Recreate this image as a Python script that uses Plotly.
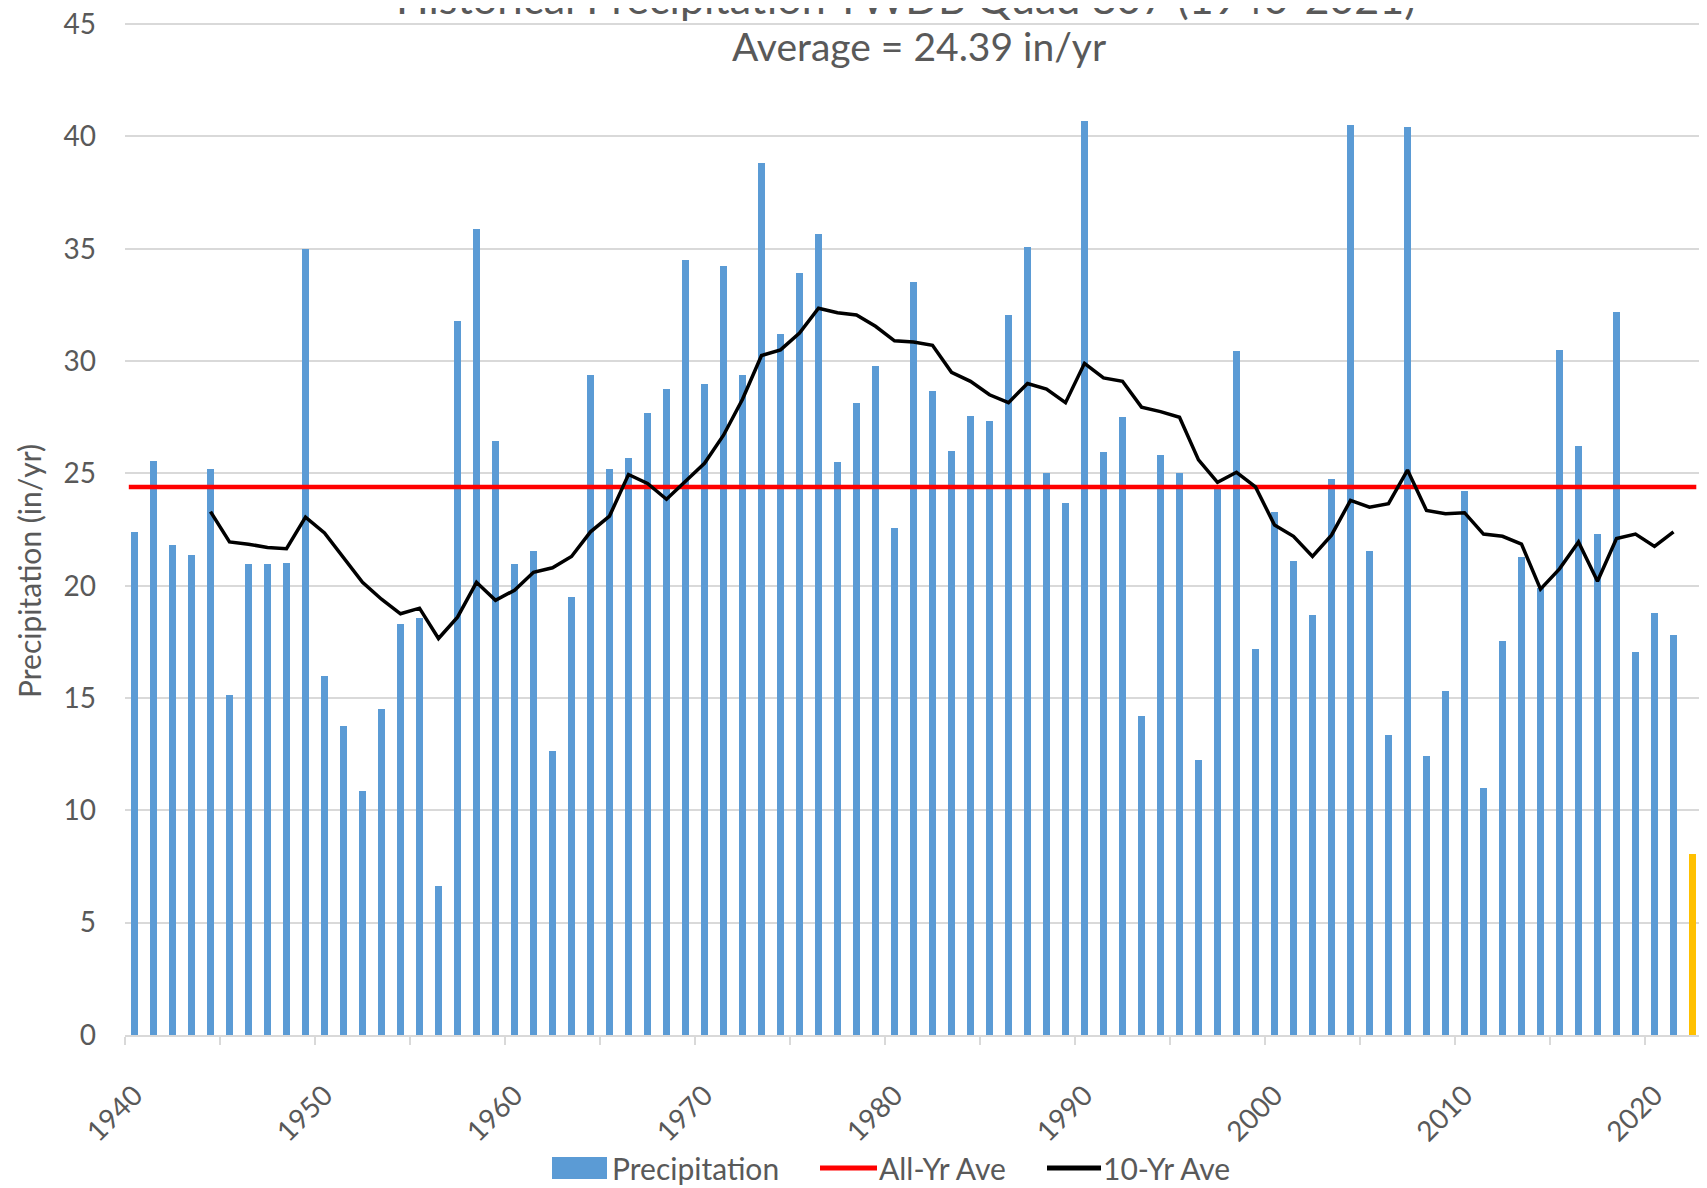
import plotly.graph_objects as go

# --- data ---
years = list(range(1940, 2023))
precip = [
    22.4, 25.55, 21.8, 21.35, 25.2, 15.15, 20.95, 20.95, 21.0, 35.0,      # 1940s
    16.0, 13.75, 10.85, 14.5, 18.3, 18.55, 6.65, 31.8, 35.9, 26.45,       # 1950s
    20.95, 21.55, 12.65, 19.5, 29.4, 25.2, 25.7, 27.7, 28.75, 34.5,       # 1960s
    29.0, 34.25, 29.4, 38.8, 31.2, 33.9, 35.65, 25.5, 28.15, 29.8,        # 1970s
    22.55, 33.5, 28.65, 26.0, 27.55, 27.35, 32.05, 35.1, 25.0, 23.7,      # 1980s
    40.7, 25.95, 27.5, 14.2, 25.8, 25.0, 12.25, 24.5, 30.45, 17.2,        # 1990s
    23.3, 21.1, 18.7, 24.75, 40.5, 21.55, 13.35, 40.4, 12.4, 15.3,        # 2000s
    24.2, 11.0, 17.55, 21.3, 19.9, 30.5, 26.2, 22.3, 32.2, 17.05,         # 2010s
    18.8, 17.8, 8.05,                                                     # 2020-2022
]
partial_year = 2022  # current (incomplete) year, drawn in yellow

ten_yr_years = list(range(1944, 2022))
ten_yr_ave = [
    23.3, 21.95, 21.85, 21.7, 21.65, 23.05,
    22.35, 21.25, 20.15, 19.4, 18.75, 19.0, 17.65, 18.6, 20.15, 19.35,
    19.8, 20.6, 20.8, 21.3, 22.4, 23.1, 24.95, 24.55, 23.85, 24.65,
    25.45, 26.7, 28.3, 30.25, 30.5, 31.25, 32.35, 32.15, 32.05, 31.55,
    30.9, 30.85, 30.7, 29.5, 29.1, 28.5, 28.15, 29.0, 28.75, 28.15,
    29.9, 29.25, 29.1, 27.95, 27.75, 27.5, 25.6, 24.6, 25.05, 24.4,
    22.7, 22.2, 21.3, 22.25, 23.8, 23.5, 23.65, 25.15, 23.35, 23.2,
    23.25, 22.3, 22.2, 21.85, 19.85, 20.75, 21.95, 20.2, 22.1, 22.3,
    21.75, 22.4,
]
all_yr_ave = 24.39

x_tick_years = list(range(1940, 2021, 10))
y_ticks = list(range(0, 46, 5))

title_text = "Historical Precipitation TWDB Quad 807 (1940-2021)"
subtitle_text = "Average = 24.39 in/yr"
y_title = "Precipitation (in/yr)"

# --- styling ---
# the page body has the browser's default 8px margin, so the figure starts at (8, 8)
OFF = 8
WIN_W, WIN_H = 1707, 1188
W, H = WIN_W - OFF, WIN_H - OFF
# plot area in window pixels
PL, PR, PT, PB = 125, 1702, 23, 1035
M_L, M_R, M_T, M_B = PL - OFF, W - (PR - OFF), PT - OFF, H - (PB - OFF)

BLUE = "#5B9BD5"
YELLOW = "#FFC000"
RED = "#FF0000"
GRID = "#D9D9D9"
TXT = "#595959"
FONT = "Lato, Carlito, Calibri, sans-serif"


def paper_x(px):
    """window pixel -> paper x"""
    return (px - PL) / (PR - PL)


def paper_y(py):
    """window pixel -> paper y"""
    return (PB - py) / (PB - PT)


bar_colors = [YELLOW if y == partial_year else BLUE for y in years]

fig = go.Figure()

# Barres annuelles
fig.add_trace(go.Bar(
    x=years, y=precip,
    marker=dict(color=bar_colors, line=dict(width=0)),
    width=0.4,
    name="Precipitation",
    showlegend=False,
))

# Moyenne toutes années
fig.add_trace(go.Scatter(
    x=[years[0] - 0.3, years[-1] + 0.2],
    y=[all_yr_ave, all_yr_ave],
    mode="lines",
    line=dict(color=RED, width=4.5),
    name="All-Yr Ave",
    showlegend=False,
))

# Moyenne glissante 10 ans
fig.add_trace(go.Scatter(
    x=ten_yr_years, y=ten_yr_ave,
    mode="lines",
    line=dict(color="black", width=3.5),
    name="10-Yr Ave",
    showlegend=False,
))

# Titles (the main title runs off the top of the picture, as in the source)
fig.add_annotation(
    text=title_text, xref="paper", yref="paper",
    x=paper_x(906), y=1, yanchor="bottom", yshift=-2, showarrow=False,
    font=dict(family=FONT, size=43, color=TXT),
)
fig.add_annotation(
    text=subtitle_text, xref="paper", yref="paper",
    x=paper_x(919), y=1, yanchor="middle", yshift=-23, showarrow=False,
    font=dict(family=FONT, size=39, color=TXT),
)
fig.add_annotation(
    text=y_title, xref="paper", yref="paper",
    x=paper_x(29), y=paper_y(571), textangle=-90, showarrow=False,
    xanchor="center", yanchor="middle",
    font=dict(family=FONT, size=30, color=TXT),
)

# Legend drawn by hand to get the wide Excel-style keys
legend_y = 1168
fig.add_shape(type="rect", xref="paper", yref="paper",
              x0=paper_x(552), x1=paper_x(607),
              y0=paper_y(legend_y - 11), y1=paper_y(legend_y + 11),
              fillcolor=BLUE, line=dict(width=0))
fig.add_shape(type="line", xref="paper", yref="paper",
              x0=paper_x(820), x1=paper_x(877),
              y0=paper_y(legend_y), y1=paper_y(legend_y),
              line=dict(color=RED, width=5))
fig.add_shape(type="line", xref="paper", yref="paper",
              x0=paper_x(1047), x1=paper_x(1101),
              y0=paper_y(legend_y), y1=paper_y(legend_y),
              line=dict(color="black", width=5))
for label, left in [("Precipitation", 610), ("All-Yr Ave", 877), ("10-Yr Ave", 1101)]:
    fig.add_annotation(
        text=label, xref="paper", yref="paper",
        x=paper_x(left), y=paper_y(legend_y), xanchor="left", yanchor="middle",
        showarrow=False, font=dict(family=FONT, size=30, color=TXT),
    )

fig.update_layout(
    width=W, height=H,
    margin=dict(l=M_L, r=M_R, t=M_T, b=M_B),
    plot_bgcolor="white", paper_bgcolor="white",
    bargap=0,
    font=dict(family=FONT, size=28, color=TXT),
    xaxis=dict(
        range=[1939.5, 2022.5],
        tickvals=x_tick_years,
        ticktext=[str(y) for y in x_tick_years],
        tickangle=-45,
        ticks="",
        ticklabelstandoff=31,
        automargin=False,
        showgrid=False, zeroline=False,
        showline=True, linecolor=GRID, linewidth=1.5,
        minor=dict(ticks="outside", tick0=1939.5, dtick=5, ticklen=8,
                   tickcolor=GRID, tickwidth=1.5, showgrid=False),
        tickfont=dict(family=FONT, size=28, color=TXT),
    ),
    yaxis=dict(
        range=[0, 45.05],
        tickvals=y_ticks,
        showgrid=True, gridcolor=GRID, gridwidth=1.5,
        zeroline=False, ticks="",
        ticklabelstandoff=28,
        ticklabeloverflow="allow",
        automargin=False,
        tickfont=dict(family=FONT, size=28, color=TXT),
    ),
)

fig.write_html("out.html")
